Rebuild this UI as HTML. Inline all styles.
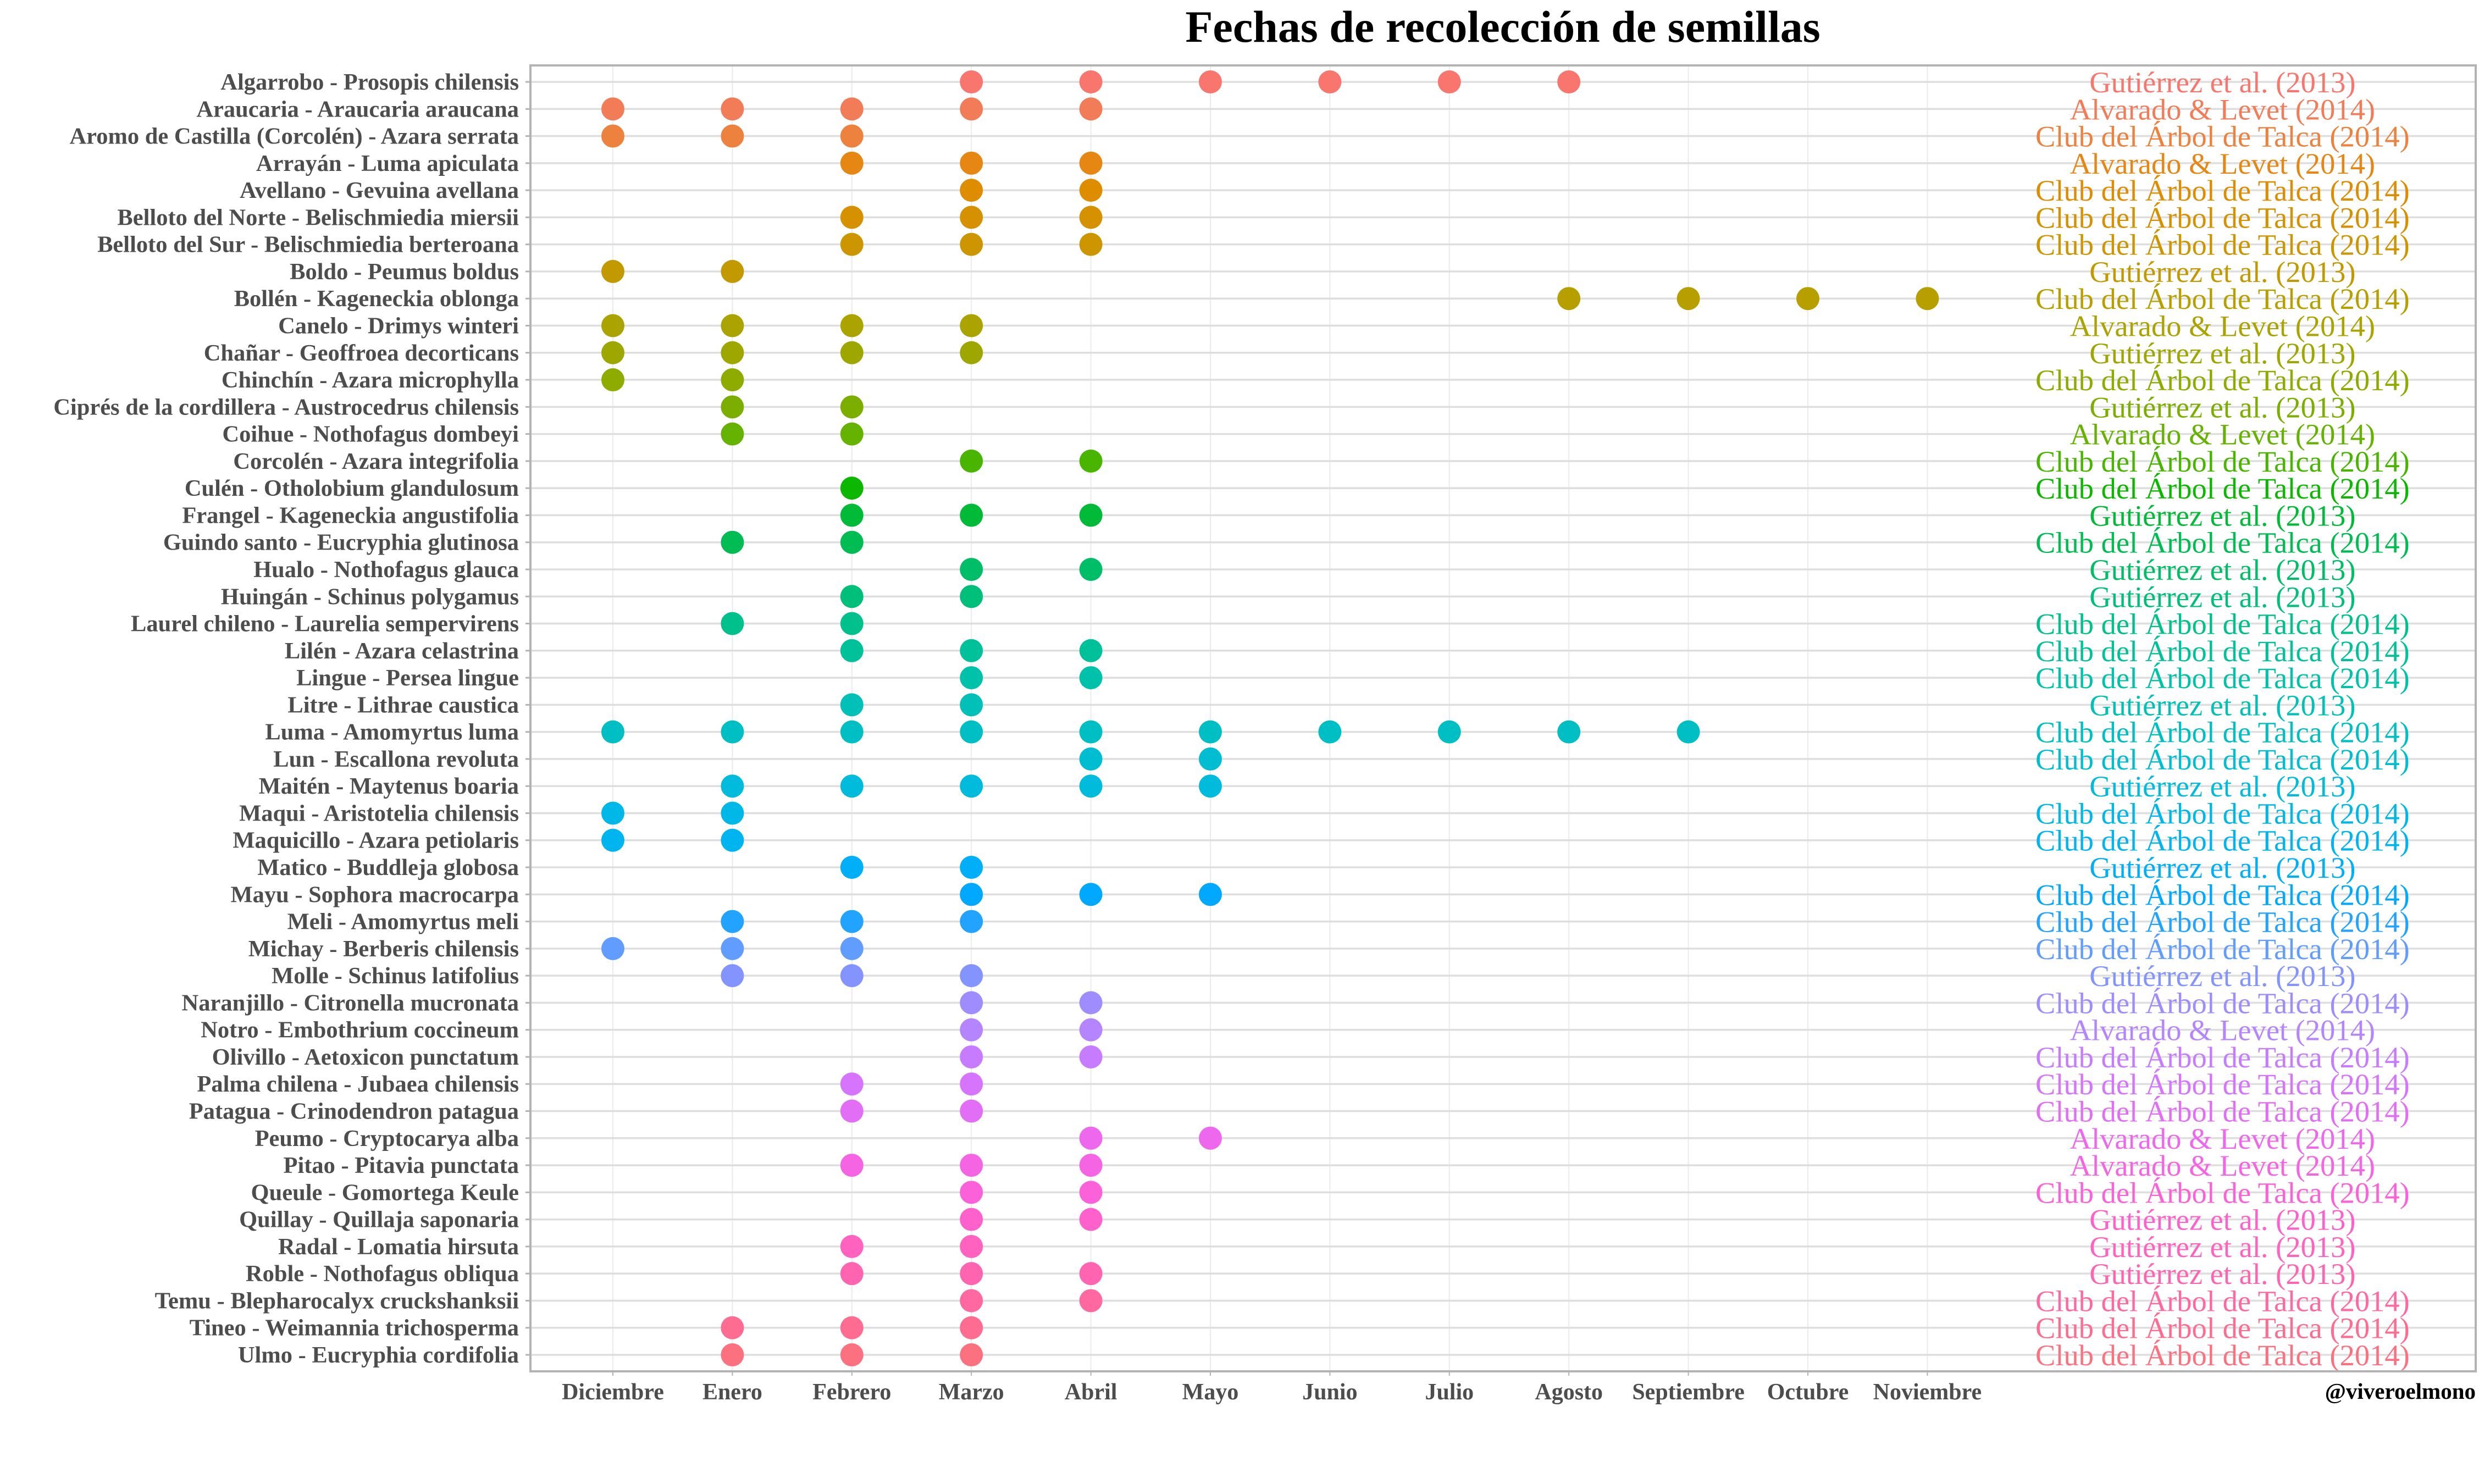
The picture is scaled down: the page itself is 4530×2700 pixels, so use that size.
<!DOCTYPE html>
<html><head><meta charset="utf-8"><style>
html,body{margin:0;padding:0;background:#fff;}
svg{display:block;}
</style></head><body>
<svg id="chart" width="4530" height="2700" viewBox="0 0 4530 2700" xmlns="http://www.w3.org/2000/svg">
<text x="2734" y="76" text-anchor="middle" font-family="Liberation Serif, serif" font-weight="bold" font-size="82" fill="#000">Fechas de recolección de semillas</text>
<g id="grid"></g><g id="marks"></g><g id="labels"></g>
<rect x="965" y="119" width="3539" height="2376" fill="none" stroke="#b3b3b3" stroke-width="4"/>
<text x="4504" y="2545" text-anchor="end" font-family="Liberation Serif, serif" font-weight="bold" font-size="41" fill="#000">@viveroelmono</text>
</svg>
<script>
const months = ["Diciembre","Enero","Febrero","Marzo","Abril","Mayo","Junio","Julio","Agosto","Septiembre","Octubre","Noviembre"];
const species = ["Algarrobo - Prosopis chilensis","Araucaria - Araucaria araucana","Aromo de Castilla (Corcolén) - Azara serrata","Arrayán - Luma apiculata","Avellano - Gevuina avellana","Belloto del Norte - Belischmiedia miersii","Belloto del Sur - Belischmiedia berteroana","Boldo - Peumus boldus","Bollén - Kageneckia oblonga","Canelo - Drimys winteri","Chañar - Geoffroea decorticans","Chinchín - Azara microphylla","Ciprés de la cordillera - Austrocedrus chilensis","Coihue - Nothofagus dombeyi","Corcolén - Azara integrifolia","Culén - Otholobium glandulosum","Frangel - Kageneckia angustifolia","Guindo santo - Eucryphia glutinosa","Hualo - Nothofagus glauca","Huingán - Schinus polygamus","Laurel chileno - Laurelia sempervirens","Lilén - Azara celastrina","Lingue - Persea lingue","Litre - Lithrae caustica","Luma - Amomyrtus luma","Lun - Escallona revoluta","Maitén - Maytenus boaria","Maqui - Aristotelia chilensis","Maquicillo - Azara petiolaris","Matico - Buddleja globosa","Mayu - Sophora macrocarpa","Meli - Amomyrtus meli","Michay - Berberis chilensis","Molle - Schinus latifolius","Naranjillo - Citronella mucronata","Notro - Embothrium coccineum","Olivillo - Aetoxicon punctatum","Palma chilena - Jubaea chilensis","Patagua - Crinodendron patagua","Peumo - Cryptocarya alba","Pitao - Pitavia punctata","Queule - Gomortega Keule","Quillay - Quillaja saponaria","Radal - Lomatia hirsuta","Roble - Nothofagus obliqua","Temu - Blepharocalyx cruckshanksii","Tineo - Weimannia trichosperma","Ulmo - Eucryphia cordifolia"];
// month index: 1=Dic ... 12=Nov
const collectMonths = [[4,5,6,7,8,9],[1,2,3,4,5],[1,2,3],[3,4,5],[4,5],[3,4,5],[3,4,5],[1,2],[9,10,11,12],[1,2,3,4],[1,2,3,4],[1,2],[2,3],[2,3],[4,5],[3],[3,4,5],[2,3],[4,5],[3,4],[2,3],[3,4,5],[4,5],[3,4],[1,2,3,4,5,6,7,8,9,10],[5,6],[2,3,4,5,6],[1,2],[1,2],[3,4],[4,5,6],[2,3,4],[1,2,3],[2,3,4],[4,5],[4,5],[4,5],[3,4],[3,4],[5,6],[3,4,5],[4,5],[4,5],[3,4],[3,4,5],[4,5],[2,3,4],[2,3,4]];
const G="Gutiérrez et al. (2013)", A="Alvarado & Levet (2014)", C="Club del Árbol de Talca (2014)";
const sources = [G,A,C,A,C,C,C,G,C,A,G,C,G,A,C,C,G,C,G,G,C,C,C,G,C,C,G,C,C,G,C,C,C,G,C,A,C,C,C,A,A,C,G,G,G,C,C,C];

const NS="http://www.w3.org/2000/svg";
const panelL=965, panelR=4504, panelT=119, panelB=2495;
const x0=1115, dx=217.4, y0=149, dy=(2465-149)/47;
const xs=m=>x0+(m-1)*dx;
const ys=i=>y0+i*dy;
function hcl(h){const L=65,Cc=100;const Xn=95.047,Yn=100,Zn=108.883;
 const un=4*Xn/(Xn+15*Yn+3*Zn), vn=9*Yn/(Xn+15*Yn+3*Zn);
 const u=Cc*Math.cos(h*Math.PI/180), v=Cc*Math.sin(h*Math.PI/180);
 const Y=Yn*Math.pow((L+16)/116,3);const up=u/(13*L)+un, vp=v/(13*L)+vn;
 const X=Y*9*up/(4*vp), Z=Y*(12-3*up-20*vp)/(4*vp);
 const x=X/100,y=Y/100,z=Z/100;
 let r=3.2404542*x-1.5371385*y-0.4985314*z, g=-0.9692660*x+1.8760108*y+0.0415560*z, b=0.0556434*x-0.2040259*y+1.0572252*z;
 const gm=c=>{c=c<=0.0031308?12.92*c:1.055*Math.pow(c,1/2.4)-0.055;return Math.round(Math.max(0,Math.min(1,c))*255);};
 return `rgb(${gm(r)},${gm(g)},${gm(b)})`;}
function mk(tag,attrs,parent){const e=document.createElementNS(NS,tag);for(const k in attrs)e.setAttribute(k,attrs[k]);parent.appendChild(e);return e;}
const grid=document.getElementById('grid'), marks=document.getElementById('marks'), labels=document.getElementById('labels');
months.forEach((m,i)=>{
 const l=mk('line',{x1:xs(i+1),x2:xs(i+1),y1:panelT,y2:panelB,stroke:'#ebebeb','stroke-width':2},grid);
 
 
 const t=mk('line',{x1:xs(i+1),x2:xs(i+1),y1:panelB,y2:panelB+8,stroke:'#b3b3b3','stroke-width':2},grid);
 
 
 const tx=mk('text',{x:xs(i+1),y:2546,'text-anchor':'middle','font-family':'Liberation Serif, serif','font-weight':'bold','font-size':42,fill:'#4d4d4d'},labels);
 tx.textContent=m;
 
 
});
species.forEach((s,i)=>{
 const y=ys(i), col=hcl(15+i*7.5);
 const l=mk('line',{x1:panelL,x2:panelR,y1:y,y2:y,stroke:'#dedede','stroke-width':3.5},grid);
 
 
 const t=mk('line',{x1:panelL-9,x2:panelL,y1:y,y2:y,stroke:'#b3b3b3','stroke-width':3},grid);
 
 
 const lb=mk('text',{x:944,y:y+14,'text-anchor':'end','font-family':'Liberation Serif, serif','font-weight':'bold','font-size':42.5,fill:'#4d4d4d'},labels);
 lb.textContent=s;
 
 
 collectMonths[i].forEach(m=>{
  const c=mk('circle',{cx:xs(m),cy:y,r:21,fill:col},marks);
  
  
 });
 const st=mk('text',{x:xs(14.47),y:y+19,'text-anchor':'middle','font-family':'Liberation Serif, serif','font-size':54.5,fill:col},labels);
 st.textContent=sources[i];
 
 
});
</script>
</body></html>
